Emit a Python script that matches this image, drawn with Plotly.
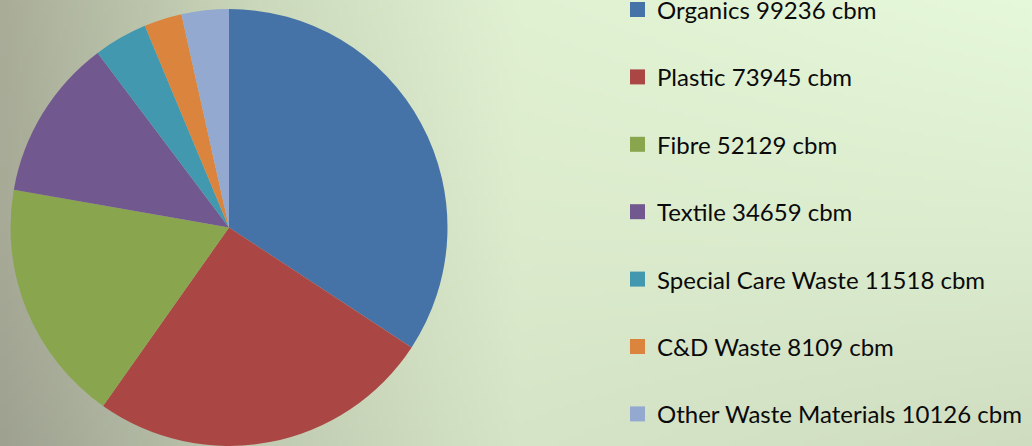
import base64, struct, zlib
import numpy as np
import plotly.graph_objects as go

categories = ["Organics", "Plastic", "Fibre", "Textile", "Special Care Waste", "C&D Waste", "Other Waste Materials"]
volumes_cbm = [99236, 73945, 52129, 34659, 11518, 8109, 10126]
colors = ["#4572A7", "#AA4643", "#89A54E", "#71588F", "#4198AF", "#DB843D", "#93A9CF"]
labels = [f"{c} {v} cbm" for c, v in zip(categories, volumes_cbm)]

# background gradient control colours (x stops, y stops)
bg_x = [0.0, 0.25, 0.5, 1.0]
bg_y = [0.0, 0.5, 1.0]
bg_cols = [
    ["#a9ad98", "#cbd8bb", "#e0f1d2", "#e6f8da"],
    ["#a6aa96", "#c6d2b6", "#dbebcc", "#dcedcf"],
    ["#9ea190", "#bfcab0", "#d5e4c6", "#cfdcc0"],
]

W, H = 1032, 446


def hex2rgb(h):
    h = h.lstrip("#")
    return [int(h[i:i + 2], 16) for i in (0, 2, 4)]


def make_png(w, h):
    cols = np.array([[hex2rgb(c) for c in row] for row in bg_cols], dtype=float)
    xs = np.linspace(0, 1, w)
    ys = np.linspace(0, 1, h)
    img = np.zeros((h, w, 3))
    for ch in range(3):
        rows = np.array([np.interp(xs, bg_x, cols[r, :, ch]) for r in range(len(bg_y))])
        for j in range(w):
            img[:, j, ch] = np.interp(ys, bg_y, rows[:, j])
    img = np.clip(img.round(), 0, 255).astype(np.uint8)
    raw = b"".join(b"\x00" + img[r].tobytes() for r in range(h))

    def chunk(t, d):
        c = t + d
        return struct.pack(">I", len(d)) + c + struct.pack(">I", zlib.crc32(c) & 0xffffffff)

    png = b"\x89PNG\r\n\x1a\n" + chunk(b"IHDR", struct.pack(">IIBBBBB", w, h, 8, 2, 0, 0, 0))
    png += chunk(b"IDAT", zlib.compress(raw, 9)) + chunk(b"IEND", b"")
    return "data:image/png;base64," + base64.b64encode(png).decode()


fig = go.Figure()
fig.add_trace(go.Pie(
    labels=labels, values=volumes_cbm, sort=False, direction="clockwise", rotation=0,
    marker=dict(colors=colors, line=dict(width=0)), textinfo="none", hoverinfo="label+percent",
    showlegend=False, domain=dict(x=[0.0102, 0.4336], y=[0.0, 0.98]),
))

# legend drawn as a column of swatches + labels
leg_top_px, leg_step_px, sw = 9.5, 67.4, 15
shapes, annotations = [], []
for i, (lab, col) in enumerate(zip(labels, colors)):
    yc = leg_top_px + i * leg_step_px
    shapes.append(dict(type="rect", xref="paper", yref="paper",
                       x0=630 / W, x1=(630 + sw) / W,
                       y0=1 - (yc + sw / 2) / H, y1=1 - (yc - sw / 2) / H,
                       fillcolor=col, line=dict(width=0), layer="above"))
    annotations.append(dict(text=lab, xref="paper", yref="paper", x=655 / W, y=1 - yc / H,
                            xanchor="left", yanchor="middle", showarrow=False,
                            font=dict(family="Lato, sans-serif", size=24, color="#0a0a0a")))

fig.update_layout(
    width=W, height=H, margin=dict(l=0, r=0, t=0, b=0),
    paper_bgcolor="#d8e8c8", plot_bgcolor="rgba(0,0,0,0)",
    font=dict(family="Lato, sans-serif", size=24, color="#000000"),
    showlegend=False, shapes=shapes, annotations=annotations,
    images=[dict(source=make_png(206, 90), xref="paper", yref="paper", x=0, y=1,
                 sizex=1, sizey=1, sizing="stretch", layer="below", xanchor="left", yanchor="top")],
)
fig.write_html("out.html", config={"displayModeBar": False},
               post_script="document.body.style.margin='0';document.body.style.overflow='hidden';")
